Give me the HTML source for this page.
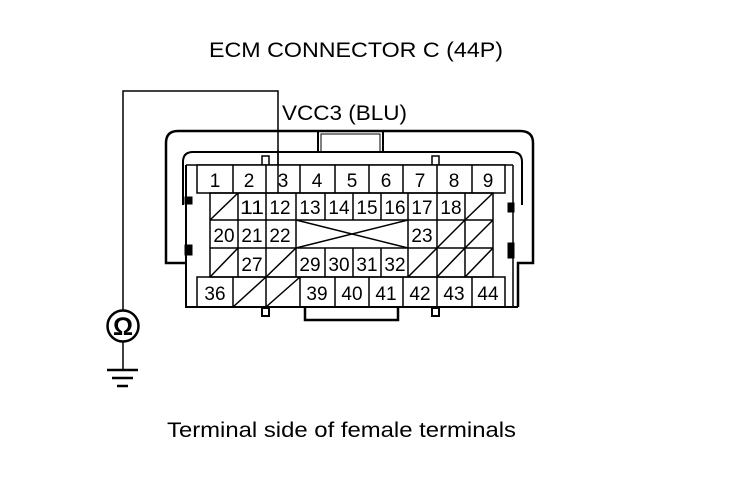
<!DOCTYPE html>
<html><head><style>html,body{margin:0;padding:0;background:#fff}svg{display:block}</style></head><body>
<svg width="736" height="480" viewBox="0 0 736 480" xmlns="http://www.w3.org/2000/svg" font-family="Liberation Sans, Arial, sans-serif" fill="none" stroke="#000">
<text x="209" y="57" font-size="21" fill="#000" stroke="none" textLength="294" lengthAdjust="spacingAndGlyphs">ECM CONNECTOR C (44P)</text>
<text x="282" y="120" font-size="21" fill="#000" stroke="none" textLength="125" lengthAdjust="spacingAndGlyphs">VCC3 (BLU)</text>
<text x="167" y="437" font-size="21" fill="#000" stroke="none" textLength="349" lengthAdjust="spacingAndGlyphs">Terminal side of female terminals</text>
<!-- wire -->
<polyline points="123,311 123,91 278,91 278,193" stroke-width="1.5"/>
<circle cx="123" cy="326" r="15.5" stroke-width="2.5"/>
<text x="123" y="335" font-size="25" font-weight="bold" text-anchor="middle" fill="#000" stroke="none">Ω</text>
<line x1="123" y1="342" x2="123" y2="370" stroke-width="1.5"/>
<line x1="107" y1="370" x2="138" y2="370" stroke-width="2.5"/>
<line x1="112" y1="378" x2="133" y2="378" stroke-width="2.5"/>
<line x1="117" y1="386" x2="128" y2="386" stroke-width="2.5"/>
<!-- outer shell -->
<path d="M185,263 H166 V143 Q166,131 178,131 H520 Q533,131 533,143 V263 H518 V307" stroke-width="2.5"/>
<!-- top latch -->
<rect x="318" y="131" width="65" height="21" stroke-width="2"/>
<rect x="321" y="134" width="59" height="18" stroke-width="1"/>
<!-- inner housing -->
<path d="M183,205 V162 Q183,152 193,152 H512 Q522,152 522,162 V205" stroke-width="2"/>
<!-- frame -->
<path d="M186,165 V307 H518" stroke-width="2"/>
<line x1="513" y1="165" x2="513" y2="307" stroke-width="1.5"/>
<line x1="186" y1="165" x2="513" y2="165" stroke-width="1.5"/>
<!-- side tabs -->
<rect x="185" y="197" width="7" height="7" fill="#000"/>
<rect x="185" y="245" width="7" height="10" fill="#000"/>
<rect x="508" y="203" width="6" height="9" fill="#000"/>
<rect x="508" y="243" width="6" height="15" fill="#000"/>
<!-- top tabs -->
<rect x="262" y="156" width="7" height="9" fill="#fff" stroke-width="1.5"/>
<rect x="432" y="156" width="7" height="9" fill="#fff" stroke-width="1.5"/>
<!-- bottom latch & tabs -->
<path d="M305,308 V320 H398 V308" stroke-width="2.5"/>
<rect x="262" y="308" width="7" height="8" stroke-width="2"/>
<rect x="432" y="308" width="7" height="8" stroke-width="2"/>
<g stroke-width="1.5">
<rect x="197" y="165" width="308" height="28" fill="#fff"/>
<path d="M233,165V193M266,165V193M300,165V193M335,165V193M369,165V193M403,165V193M437,165V193M472,165V193"/>
<rect x="210" y="193" width="283" height="84"/>
<path d="M210,220H493M210,248H493"/>
<path d="M238,193V220M266,193V220M296,193V220M325,193V220M353,193V220M381,193V220M408,193V220M437,193V220M465,193V220"/>
<path d="M238,220V248M266,220V248M296,220V248M408,220V248M437,220V248M465,220V248"/>
<path d="M238,248V277M266,248V277M296,248V277M325,248V277M353,248V277M381,248V277M408,248V277M437,248V277M465,248V277"/>
<path d="M296,220L408,248M296,248L408,220"/>
<path d="M210,220L238,193M465,220L493,193M437,248L465,220M465,248L493,220M210,277L238,248M266,277L296,248M408,277L437,248M437,277L465,248M465,277L493,248"/>
<rect x="197" y="277" width="308" height="30"/>
<path d="M233,277V307M266,277V307M300,277V307M335,277V307M369,277V307M403,277V307M437,277V307M472,277V307"/>
<path d="M233,307L266,277M266,307L300,277"/>
</g>
<line x1="278" y1="150" x2="278" y2="193" stroke-width="1.5"/>
<g font-size="19" fill="#000" stroke="none" text-anchor="middle">
<text x="215" y="187">1</text><text x="249" y="187">2</text><text x="283" y="187">3</text><text x="317" y="187">4</text><text x="352" y="187">5</text><text x="386" y="187">6</text><text x="420" y="187">7</text><text x="454" y="187">8</text><text x="488" y="187">9</text>
<text x="252" y="214" textLength="24" lengthAdjust="spacingAndGlyphs">11</text><text x="280" y="214">12</text><text x="310" y="214">13</text><text x="339" y="214">14</text><text x="367" y="214">15</text><text x="395" y="214">16</text><text x="422" y="214">17</text><text x="451" y="214">18</text>
<text x="224" y="242">20</text><text x="252" y="242">21</text><text x="280" y="242">22</text><text x="422" y="242">23</text>
<text x="252" y="271">27</text><text x="310" y="271">29</text><text x="339" y="271">30</text><text x="367" y="271">31</text><text x="395" y="271">32</text>
<text x="215" y="300">36</text><text x="317" y="300">39</text><text x="352" y="300">40</text><text x="386" y="300">41</text><text x="420" y="300">42</text><text x="454" y="300">43</text><text x="488" y="300">44</text>
</g>
</svg>
</body></html>
